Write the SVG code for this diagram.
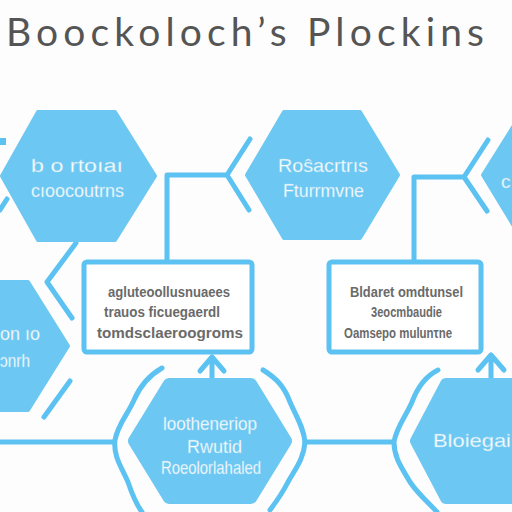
<svg xmlns="http://www.w3.org/2000/svg" width="512" height="512" viewBox="0 0 512 512">
<style>
.hex{fill:#6cc8f2;stroke:#6cc8f2;stroke-width:4;stroke-linejoin:round}
.rhex{fill:#6cc8f2;stroke:#6cc8f2;stroke-width:12;stroke-linejoin:round}
.ln{fill:none;stroke:#5cc2f1;stroke-width:5;stroke-linecap:round;stroke-linejoin:round}
.box{fill:#ffffff;stroke:#5cc2f1;stroke-width:5}
.ht{font-family:"Liberation Sans Narrow","Liberation Sans",sans-serif;fill:#ffffff;font-size:19px;stroke:#9ad6f2;stroke-width:0.4}
.bt{font-family:"Liberation Sans Narrow","Liberation Sans",sans-serif;fill:#6a6a6a;font-size:14px;font-weight:bold}
.title{font-family:"Lato","DejaVu Sans",sans-serif;fill:#555555;font-size:39px;font-weight:400}
</style>
<rect width="512" height="512" fill="#fdfdfd"/>
<text class="title" x="6" y="46" textLength="478" lengthAdjust="spacing">Boockoloch’s Plockins</text>

<g id="connectors">
  <rect x="0" y="138" width="6" height="7" fill="#5cc2f1"/>
  <path class="ln" d="M7 199 L0 210"/>
  <path class="ln" d="M167 261 V175 H227 M250 139 L227 175 L249 210"/>
  <path class="ln" d="M414 261 V177 H464 M488 140 L464 177 L487 211"/>
  <path class="ln" d="M76 243 L47 282 L72 318"/>
  <path class="ln" d="M70 381 L44 417"/>
  <path class="ln" d="M0 442 H113"/>
  <path class="ln" d="M305 442 H393"/>
  <path class="ln" d="M212 379 V358 M200 371 L212 357 L224 371"/>
  <path class="ln" d="M491 380 V356 M478 370 L491 355 L504 370"/>
</g>

<g id="node-hex1">
  <polygon class="hex" points="38,112 115,112 155,176 115,240 38,240 2,176"/>
  <text class="ht" x="31" y="172" textLength="92" lengthAdjust="spacingAndGlyphs">b o  rtoıaı</text>
  <text class="ht" x="31" y="197" textLength="93" lengthAdjust="spacingAndGlyphs">cıoocoutrns</text>
</g>

<g id="node-hex2">
  <polygon class="hex" points="284,112 360,112 398,175 360,238 284,238 247,175"/>
  <text class="ht" x="278" y="172" textLength="90" lengthAdjust="spacingAndGlyphs">Roŝacrtrıs</text>
  <text class="ht" x="283" y="197" textLength="81" lengthAdjust="spacingAndGlyphs">Fturrmvne</text>
</g>

<g id="node-hex3">
  <polygon class="hex" points="520,116 600,116 640,175 600,236 520,236 483,175"/>
  <text class="ht" x="501" y="188">c</text>
</g>

<g id="node-hex4">
  <polygon class="hex" points="-40,282 28,282 68,346 28,410 -40,410"/>
  <text class="ht" x="0" y="340" textLength="40" lengthAdjust="spacingAndGlyphs">on ıo</text>
  <text class="ht" x="0" y="367" textLength="30" lengthAdjust="spacingAndGlyphs">ɔnrh</text>
</g>

<g id="node-box1">
  <rect class="box" x="84" y="262" width="168" height="90" rx="3"/>
  <text class="bt" x="108" y="297" textLength="122" lengthAdjust="spacingAndGlyphs">agluteoollusnuaees</text>
  <text class="bt" x="104" y="317" textLength="116" lengthAdjust="spacingAndGlyphs">trauos ficuegaerdl</text>
  <text class="bt" x="97" y="338" textLength="146" lengthAdjust="spacingAndGlyphs">tomdsclaeroogroms</text>
</g>

<g id="node-box2">
  <rect class="box" x="329" y="262" width="152" height="90" rx="3"/>
  <text class="bt" x="350" y="297" textLength="113" lengthAdjust="spacingAndGlyphs">Bldaret omdtunsel</text>
  <text class="bt" x="371" y="317" textLength="71" lengthAdjust="spacingAndGlyphs">3eocmbaudie</text>
  <text class="bt" x="344" y="338" textLength="108" lengthAdjust="spacingAndGlyphs">Oamsepo mulunτne</text>
</g>

<g id="node-center">
  <path class="ln" d="M162 368 C148 376 140 386 134 400 C128 414 118 424 115 440 C113 456 122 468 128 482 C132 494 136 504 142 512"/>
  <path class="ln" d="M263 370 C276 378 284 386 290 402 C296 416 304 428 305 442 C304 458 296 468 288 482 C282 494 276 502 270 510"/>
  <polygon class="rhex" points="169,384 251,384 286,441 251,498 169,498 134,441"/>
  <text class="ht" x="163" y="430" textLength="94" lengthAdjust="spacingAndGlyphs">lootheneriop</text>
  <text class="ht" x="187" y="453" textLength="55" lengthAdjust="spacingAndGlyphs">Rwutid</text>
  <text class="ht" x="161" y="474" textLength="100" lengthAdjust="spacingAndGlyphs">Roeolorlahaled</text>
</g>

<g id="node-right">
  <path class="ln" d="M438 370 C426 376 418 386 412 402 C406 416 396 428 394 442 C394 458 402 468 410 482 C418 494 428 502 437 512"/>
  <polygon class="rhex" points="446,384 540,384 575,441 540,498 446,498 416,441"/>
  <text class="ht" x="433" y="447" font-size="24" textLength="78" lengthAdjust="spacingAndGlyphs">Bloiegai</text>
</g>
</svg>
